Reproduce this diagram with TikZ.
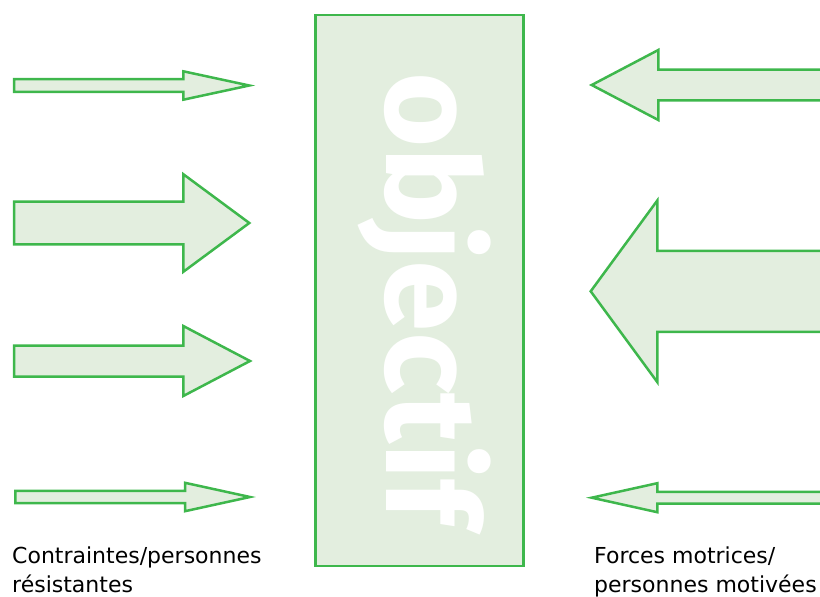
\documentclass[tikz,border=0pt]{standalone}
\usepackage{fontspec}
\setmainfont{DejaVu Sans}
\newfontfamily\titrefont{Fira Sans}
\definecolor{vertbord}{RGB}{62,183,76}
\definecolor{vertpale}{RGB}{227,238,223}
% arrows: start x, head base x, tip x, centre y, shaft half, head half
\newcommand{\flecheDroite}[6]{%
  \draw[fleche] (#1,#4-#5) -- (#2,#4-#5) -- (#2,#4-#6) -- (#3,#4)
    -- (#2,#4+#6) -- (#2,#4+#5) -- (#1,#4+#5) -- cycle;}

\begin{document}
\begin{tikzpicture}[x=1pt,y=-1pt,
    fleche/.style={draw=vertbord,fill=vertpale,line width=2.5pt,line join=miter},
    cadre/.style={draw=vertbord,fill=vertpale,line width=2.5pt,inner sep=0pt},
    legende/.style={inner sep=0pt,align=left,font=\fontsize{22}{29}\selectfont}]
  \useasboundingbox (0,0) rectangle (820,597);

  \node[cadre,minimum width=207.6pt,minimum height=550.7pt] (objectif) at (419.5,290.4) {};
  \node[rotate=-90,anchor=base west,inner sep=0pt,text=white,
        font=\titrefont\bfseries\fontsize{129}{129}\selectfont] (titre) at (386,72) {objectif};

  % left side
  \flecheDroite{14}{183.3}{249.3}{85.5}{6.4}{14.2}
  \flecheDroite{14}{183.3}{249.3}{223}{21.3}{48.8}
  \flecheDroite{14}{183.3}{250}{361}{15.5}{35}
  \flecheDroite{15.3}{185}{250}{497}{6.2}{14.2}

  % right side
  \flecheDroite{830}{658.3}{591.7}{85}{15.4}{35}
  \flecheDroite{830}{657.3}{590.7}{291.3}{40.5}{90.8}
  \flecheDroite{830}{657.3}{591.7}{497.7}{5.8}{14.5}

  \node[legende,anchor=north west] (contraintes) at (12,546.5) {Contraintes/personnes\\résistantes};
  \node[legende,anchor=north west] (forces) at (594,546.5) {Forces motrices/\\personnes motivées};
\end{tikzpicture}
\end{document}
